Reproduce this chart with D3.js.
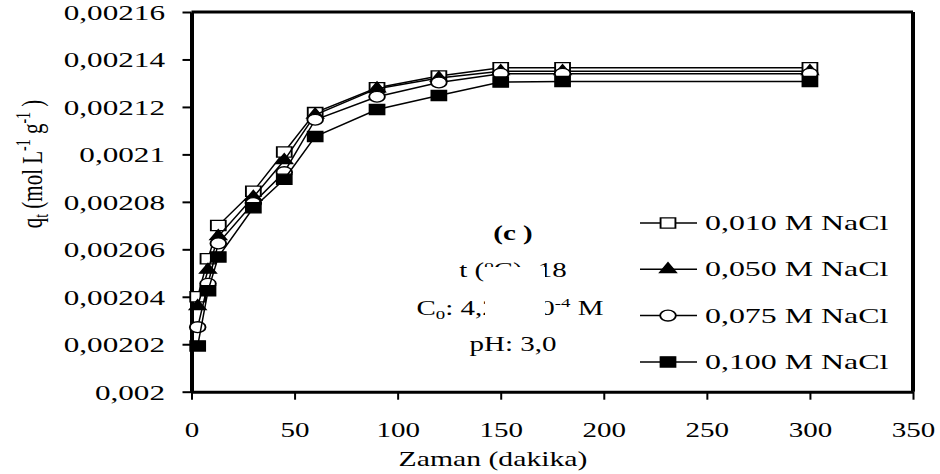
<!DOCTYPE html>
<html>
<head>
<meta charset="utf-8">
<script src="https://cdn.jsdelivr.net/npm/d3@7"></script>
<style>
  body { margin: 0; background: #fff; }
  text { font-family: "Liberation Serif", "Times New Roman", serif; fill: #000; }
</style>
</head>
<body>
<script>
// contact time (min) and q_t for each NaCl concentration
const times = [3, 8, 13, 30, 45, 60, 90, 120, 150, 180, 300]
const q010 = [0.002040, 0.002056, 0.002070, 0.0020845, 0.002101, 0.0021176, 0.0021281, 0.002133, 0.0021365, 0.0021365, 0.0021365]
const q050 = [0.002036, 0.0020513, 0.0020655, 0.002082, 0.0020975, 0.0021167, 0.0021277, 0.0021322, 0.002135, 0.002135, 0.002135]
const q075 = [0.0020272, 0.0020455, 0.0020625, 0.0020795, 0.0020925, 0.0021146, 0.0021243, 0.0021303, 0.002134, 0.002134, 0.002134]
const q100 = [0.0020193, 0.0020425, 0.0020568, 0.0020775, 0.0020895, 0.0021075, 0.0021189, 0.0021248, 0.0021305, 0.0021307, 0.0021307]
const seriesNames = ['0,010 M NaCl', '0,050 M NaCl', '0,075 M NaCl', '0,100 M NaCl']
const markers = ['square', 'triangle', 'circle', 'squareFilled']
const xTicks = [0, 50, 100, 150, 200, 250, 300, 350]
const yTicks = [0.002, 0.00202, 0.00204, 0.00206, 0.00208, 0.0021, 0.00212, 0.00214, 0.00216]

const series = [q010, q050, q075, q100].map((vals, i) => ({
  name: seriesNames[i],
  marker: markers[i],
  points: times.map((t, j) => ({ t, q: vals[j] }))
}))

// the source picture is stretched sideways, so glyphs and markers get scaleX
const sx = 1.45

const svg = d3.select('body').append('svg')
  .attr('width', 940)
  .attr('height', 474)

const x = d3.scaleLinear().domain([0, 350]).range([191.5, 913])
const y = d3.scaleLinear().domain([0.002, 0.00216]).range([391.7, 12])

const fmt = d => String(+d.toFixed(5)).replace('.', ',')

// frame top + right
svg.append('line')
  .attr('x1', x(0)).attr('x2', x(350))
  .attr('y1', y(0.00216)).attr('y2', y(0.00216))
  .attr('stroke', '#000').attr('stroke-width', 3)
svg.append('line')
  .attr('x1', x(350)).attr('x2', x(350))
  .attr('y1', y(0.00216)).attr('y2', y(0.002))
  .attr('stroke', '#000').attr('stroke-width', 4)

const gy = svg.append('g')
  .attr('transform', `translate(${x(0)},0)`)
  .call(d3.axisLeft(y).tickValues(yTicks).tickSize(9).tickSizeOuter(0).tickFormat(fmt))
gy.attr('font-size', null).attr('font-family', null)
gy.select('.domain').attr('stroke-width', 4)
gy.selectAll('.tick line').attr('stroke-width', 2)
gy.selectAll('.tick text')
  .attr('x', -26.5 / sx)
  .attr('dy', '0.34em')
  .attr('font-size', 21.5)
  .attr('transform', `scale(${sx},1)`)

const gx = svg.append('g')
  .attr('transform', `translate(0,${y(0.002)})`)
  .call(d3.axisBottom(x).tickValues(xTicks).tickSize(8).tickSizeOuter(0))
gx.attr('font-size', null).attr('font-family', null)
gx.select('.domain').attr('stroke-width', 3)
gx.selectAll('.tick line').attr('stroke-width', 2)
gx.selectAll('.tick text')
  .attr('y', 45)
  .attr('dy', 0)
  .attr('font-size', 20)
  .attr('transform', `scale(${sx},1)`)

// axis titles
svg.append('text')
  .attr('transform', `translate(493,466) scale(${sx},1)`)
  .attr('text-anchor', 'middle')
  .attr('font-size', 20.5)
  .text('Zaman (dakika)')

const yt = svg.append('text')
  .attr('transform', `translate(42,164) scale(${sx},1) rotate(-90)`)
  .attr('text-anchor', 'middle')
  .attr('font-size', 21)
yt.append('tspan').text('q')
yt.append('tspan').attr('font-size', 14).attr('dy', 4).text('t')
yt.append('tspan').attr('dy', -4).text(' (mol L')
yt.append('tspan').attr('font-size', 14).attr('dy', -8).text('-1')
yt.append('tspan').attr('dy', 8).text(' g')
yt.append('tspan').attr('font-size', 14).attr('dy', -8).text('-1')
yt.append('tspan').attr('dy', 8).text(' )')

// series
const line = d3.line().x(d => x(d.t)).y(d => y(d.q))

function drawMarker(g, kind, cx, cy) {
  const type = kind === 'triangle' ? d3.symbolTriangle
    : kind === 'circle' ? d3.symbolCircle : d3.symbolSquare
  const size = kind === 'triangle' ? 55 : kind === 'circle' ? 92 : 105
  g.append('path')
    .attr('d', d3.symbol().type(type).size(size)())
    .attr('transform', `translate(${cx},${cy}) scale(${sx},1)`)
    .attr('fill', kind === 'square' || kind === 'circle' ? '#fff' : '#000')
    .attr('stroke', '#000')
    .attr('stroke-width', 1.3)
}

series.forEach(s => {
  const g = svg.append('g')
  g.append('path')
    .attr('d', line(s.points))
    .attr('fill', 'none')
    .attr('stroke', '#000')
    .attr('stroke-width', 1.5)
  s.points.forEach(p => drawMarker(g, s.marker, x(p.t), y(p.q)))
})

// annotation
const ann = svg.append('g')
ann.append('text')
  .attr('transform', `translate(513,240) scale(${sx},1)`)
  .attr('text-anchor', 'middle')
  .attr('font-size', 20)
  .attr('font-weight', 'bold')
  .text('(c )')
const t1 = ann.append('text')
  .attr('transform', `translate(513,277) scale(${sx},1)`)
  .attr('text-anchor', 'middle')
  .attr('font-size', 20)
t1.append('tspan').text('t (')
t1.append('tspan').attr('font-size', 13).attr('dy', -8).text('o')
t1.append('tspan').attr('dy', 8).text('C): 18')
const t2 = ann.append('text')
  .attr('transform', `translate(510,315) scale(${sx},1)`)
  .attr('text-anchor', 'middle')
  .attr('font-size', 20)
t2.append('tspan').text('C')
t2.append('tspan').attr('font-size', 13).attr('dy', 4).text('0')
t2.append('tspan').attr('dy', -4).text(': 4,2 x 10')
t2.append('tspan').attr('font-size', 13).attr('dy', -8).text('-4')
t2.append('tspan').attr('dy', 8).text(' M')
ann.append('text')
  .attr('transform', `translate(513,351) scale(${sx},1)`)
  .attr('text-anchor', 'middle')
  .attr('font-size', 20)
  .text('pH: 3,0')

// legend box is opaque and hides part of the annotation
svg.append('rect')
  .attr('x', 485).attr('y', 267)
  .attr('width', 60).attr('height', 52)
  .attr('fill', '#fff')

const leg = svg.append('g')
series.forEach((s, i) => {
  const ly = 223 + i * 46.3
  leg.append('line')
    .attr('x1', 640).attr('x2', 697)
    .attr('y1', ly).attr('y2', ly)
    .attr('stroke', '#000').attr('stroke-width', 1.5)
  drawMarker(leg, s.marker, 668, ly)
  leg.append('text')
    .attr('transform', `translate(705,${ly + 7}) scale(${sx},1)`)
    .attr('font-size', 22)
    .text(s.name)
})
</script>
</body>
</html>
